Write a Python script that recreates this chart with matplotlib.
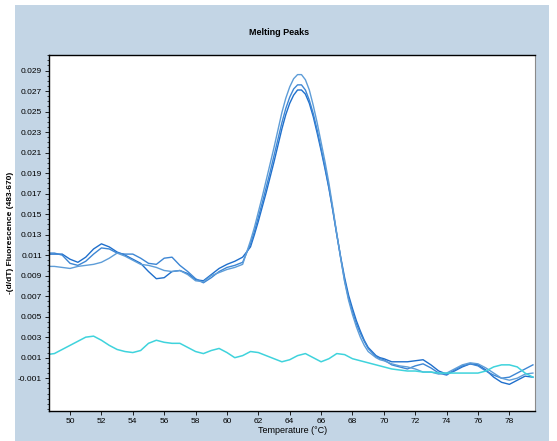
import numpy as np
import matplotlib
matplotlib.use("Agg")
import matplotlib.pyplot as plt
from matplotlib.patches import Rectangle
from matplotlib.ticker import MultipleLocator, FormatStrFormatter

# temperature grids: coarse on the shoulders, finer through the melt peak
t_left = np.arange(48.5, 61.25, 0.5)
t_peak = np.arange(61.5, 70.1, 0.25)
t_tail = np.arange(70.5, 79.75, 0.5)
temps = np.concatenate([t_left, t_peak, t_tail])
ctrl_temps = np.arange(48.5, 79.75, 0.5)

c1_left = [0.0111, 0.0111, 0.0111, 0.0106, 0.0103, 0.0108, 0.0116, 0.0121, 0.0118,
           0.0113, 0.0110, 0.0106, 0.0102, 0.0094, 0.0087, 0.0088, 0.0094, 0.0095,
           0.0092, 0.0086, 0.0085, 0.0091, 0.0097, 0.0101, 0.0104, 0.0108]
c2_left = [0.0112, 0.0112, 0.0110, 0.0102, 0.0100, 0.0104, 0.0111, 0.0117, 0.0116,
           0.0112, 0.0111, 0.0111, 0.0107, 0.0102, 0.0101, 0.0107, 0.0108, 0.0100,
           0.0094, 0.0087, 0.0083, 0.0088, 0.0094, 0.0098, 0.0100, 0.0103]
c3_left = [0.0099, 0.0099, 0.0098, 0.0097, 0.0099, 0.0100, 0.0101, 0.0103, 0.0107,
           0.0112, 0.0109, 0.0105, 0.0101, 0.0100, 0.0098, 0.0095, 0.0094, 0.0095,
           0.0091, 0.0085, 0.0084, 0.0090, 0.0093, 0.0096, 0.0098, 0.0101]

c1_peak = [0.0118, 0.0130, 0.0143, 0.0157, 0.0171, 0.0186, 0.0201, 0.0217, 0.0233,
           0.0247, 0.0258, 0.0266, 0.0271, 0.0271, 0.0267, 0.0258, 0.0245, 0.0229,
           0.0212, 0.0194, 0.0175, 0.0153, 0.0130, 0.0108, 0.0088, 0.0071, 0.0058,
           0.0046, 0.0036, 0.0027, 0.0020, 0.0016, 0.0012, 0.0010, 0.0009]
c2_peak = [0.0121, 0.0133, 0.0147, 0.0161, 0.0176, 0.0191, 0.0207, 0.0223, 0.0239,
           0.0253, 0.0264, 0.0272, 0.0276, 0.0276, 0.0271, 0.0261, 0.0248, 0.0232,
           0.0214, 0.0196, 0.0176, 0.0154, 0.0130, 0.0107, 0.0085, 0.0068, 0.0055,
           0.0043, 0.0034, 0.0026, 0.0019, 0.0015, 0.0011, 0.0009, 0.0008]
c3_peak = [0.0124, 0.0137, 0.0152, 0.0167, 0.0183, 0.0199, 0.0215, 0.0232, 0.0249,
           0.0263, 0.0274, 0.0282, 0.0286, 0.0286, 0.0281, 0.0271, 0.0256, 0.0239,
           0.0220, 0.0201, 0.0180, 0.0156, 0.0131, 0.0107, 0.0084, 0.0066, 0.0052,
           0.0040, 0.0030, 0.0022, 0.0016, 0.0013, 0.0010, 0.0008, 0.0007]

c1_tail = [0.0006, 0.0006, 0.0006, 0.0007, 0.0008, 0.0003, -0.0003, -0.0006, -0.0003,
           0.0001, 0.0004, 0.0003, -0.0002, -0.0009, -0.0014, -0.0016, -0.0012, -0.0008, -0.0009]
c2_tail = [0.0003, 0.0001, -0.0001, 0.0002, 0.0004, 0.0000, -0.0005, -0.0007, -0.0002,
           0.0002, 0.0004, 0.0002, -0.0003, -0.0007, -0.0010, -0.0009, -0.0005, -0.0001, 0.0003]
c3_tail = [0.0004, 0.0002, 0.0001, -0.0001, -0.0004, -0.0004, -0.0006, -0.0005, -0.0001,
           0.0003, 0.0005, 0.0004, 0.0000, -0.0005, -0.0010, -0.0012, -0.0010, -0.0006, -0.0005]

# negative control (flat cyan trace)
neg_ctrl = [0.0013, 0.0014, 0.0018, 0.0022, 0.0026, 0.0030, 0.0031, 0.0027, 0.0022,
            0.0018, 0.0016, 0.0015, 0.0017, 0.0024, 0.0027, 0.0025, 0.0024, 0.0024,
            0.0020, 0.0016, 0.0014, 0.0017, 0.0019, 0.0015, 0.0010, 0.0012, 0.0016,
            0.0015, 0.0012, 0.0009, 0.0006, 0.0008, 0.0012, 0.0014, 0.0010, 0.0006,
            0.0009, 0.0014, 0.0013, 0.0009, 0.0007, 0.0005, 0.0003, 0.0001, -0.0001,
            -0.0002, -0.0003, -0.0003, -0.0004, -0.0004, -0.0005, -0.0005, -0.0005,
            -0.0005, -0.0005, -0.0005, -0.0003, 0.0001, 0.0003, 0.0003, 0.0001,
            -0.0005, -0.0009]

samples = [c1_left + c1_peak + c1_tail,
           c2_left + c2_peak + c2_tail,
           c3_left + c3_peak + c3_tail]
sample_colors = ["#1f6fcc", "#3d86d4", "#5e9dd8"]

plt.rcParams["font.family"] = ["Liberation Sans", "DejaVu Sans"]

fig = plt.figure(figsize=(5.57, 4.41), dpi=100)
fig.patch.set_facecolor("white")
# light blue panel behind the plot (white margin on left/right/top)
fig.patches.append(Rectangle((0.027, 0.0), 0.958, 0.989, transform=fig.transFigure,
                             facecolor="#c3d5e5", edgecolor="none", zorder=-1))
ax = fig.add_axes([0.088, 0.068, 0.873, 0.807])
ax.set_facecolor("white")

for ys, col in zip(samples, sample_colors):
    ax.plot(temps, ys, color=col, lw=1.0)
ax.plot(ctrl_temps, neg_ctrl, color="#3fd3dc", lw=1.1)

ax.set_xlim(48.66, 79.65)
ax.set_ylim(-0.0042, 0.0305)
ax.xaxis.set_major_locator(MultipleLocator(2))
ax.yaxis.set_minor_locator(MultipleLocator(0.0005))
ax.set_yticks(np.arange(-0.001, 0.0295, 0.002))
ax.yaxis.set_major_formatter(FormatStrFormatter("%.3f"))
ax.tick_params(axis="both", labelsize=6, length=3, width=0.6, pad=2)
ax.tick_params(axis="y", which="minor", length=1.5, width=0.5)

for side in ("top", "left", "bottom"):
    ax.spines[side].set_color("black")
    ax.spines[side].set_linewidth(1.0)
ax.spines["right"].set_color("#8a8a8a")

fig.text(0.501, 0.927, "Melting Peaks", ha="center", va="center",
         fontsize=6.5, fontweight="bold")
ax.set_xlabel("Temperature (°C)", fontsize=6.5, labelpad=1)
ax.set_ylabel("-(d/dT) Fluorescence (483-670)", fontsize=6, fontweight="bold")
ax.yaxis.set_label_coords(-0.073, 0.5)

fig.savefig("out.png", dpi=100, facecolor=fig.get_facecolor())
